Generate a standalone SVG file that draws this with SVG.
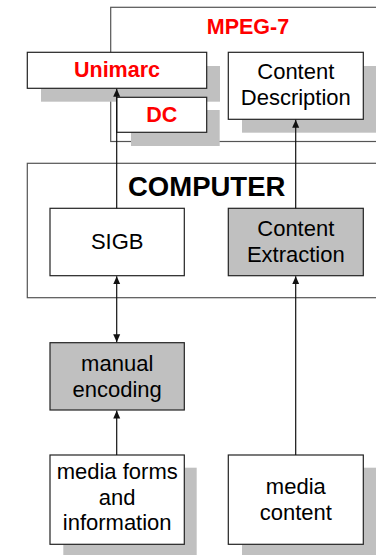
<svg xmlns="http://www.w3.org/2000/svg" width="376" height="555" viewBox="0 0 376 555">
  <style>
    .frame { fill: none; stroke: #555; stroke-width: 1.2; }
    .box { fill: #fff; stroke: #222; stroke-width: 1.2; }
    .box.grey { fill: #c0c0c0; }
    .shadow { fill: #c0c0c0; }
    text { font-family: "Liberation Sans", Arial, sans-serif; text-anchor: middle; fill: #000; }
    .lbl { font-size: 22px; }
    .red { font-weight: bold; fill: #ff0000; font-size: 21.5px; }
    .title { font-weight: bold; font-size: 27.5px; }
    .conn { stroke: #111; stroke-width: 1.2; fill: none; }
  </style>
  <defs>
    <marker id="arr" viewBox="0 0 8 8" refX="8" refY="4" markerWidth="8" markerHeight="8" markerUnits="userSpaceOnUse" orient="auto-start-reverse">
      <path d="M0,0.5 L8,4 L0,7.5 Z" fill="#111"/>
    </marker>
  </defs>

  <!-- container frames -->
  <g id="mpeg7">
    <rect class="frame" x="110.7" y="7.3" width="280" height="134.2" fill="#fff"/>
    <text class="red" x="248" y="34.3">MPEG-7</text>
  </g>
  <g id="computer">
    <rect class="frame" x="27.3" y="163.3" width="360" height="134.4"/>
    <text class="title" x="206.7" y="196">COMPUTER</text>
  </g>

  <!-- drop shadows -->
  <g id="shadows">
    <rect class="shadow" x="41" y="66" width="179" height="35.7"/>
    <rect class="shadow" x="131" y="110" width="88.7" height="36"/>
    <rect class="shadow" x="242" y="66" width="136" height="66.7"/>
    <rect class="shadow" x="63.3" y="467.7" width="133.4" height="88"/>
    <rect class="shadow" x="242" y="467.7" width="136" height="88"/>
  </g>

  <g id="unimarc">
    <rect class="box" x="27.3" y="52.3" width="179.4" height="36"/>
    <text class="red" x="117" y="77.3">Unimarc</text>
  </g>
  <g id="dc">
    <rect class="box" x="116.7" y="97.3" width="90" height="35"/>
    <text class="red" x="161.7" y="121.7">DC</text>
  </g>
  <g id="content-description">
    <rect class="box" x="228.3" y="52.3" width="135" height="67"/>
    <text class="lbl" x="295.8" y="78.7">Content</text>
    <text class="lbl" x="295.8" y="105.3">Description</text>
  </g>
  <g id="sigb">
    <rect class="box" x="50" y="208.3" width="134.3" height="67.4"/>
    <text class="lbl" x="117.2" y="249.3">SIGB</text>
  </g>
  <g id="content-extraction">
    <rect class="box grey" x="228.3" y="208.3" width="135" height="67.4"/>
    <text class="lbl" x="295.8" y="236">Content</text>
    <text class="lbl" x="295.8" y="261.7">Extraction</text>
  </g>
  <g id="manual-encoding">
    <rect class="box grey" x="50" y="342.7" width="134.3" height="67.3"/>
    <text class="lbl" x="117.2" y="370.7">manual</text>
    <text class="lbl" x="117.2" y="396.7">encoding</text>
  </g>
  <g id="media-forms">
    <rect class="box" x="50" y="455" width="134.3" height="89.3"/>
    <text class="lbl" x="117.2" y="479">media forms</text>
    <text class="lbl" x="117.2" y="504.5">and</text>
    <text class="lbl" x="117.2" y="530">information</text>
  </g>
  <g id="media-content">
    <rect class="box" x="228.3" y="455" width="135" height="89.3"/>
    <text class="lbl" x="295.8" y="494">media</text>
    <text class="lbl" x="295.8" y="519.5">content</text>
  </g>

  <!-- connectors -->
  <g id="connectors">
    <line class="conn" x1="116.7" y1="208.3" x2="116.7" y2="88.8" marker-end="url(#arr)"/>
    <line class="conn" x1="295.7" y1="208.3" x2="295.7" y2="119.8" marker-end="url(#arr)"/>
    <line class="conn" x1="116.7" y1="276.2" x2="116.7" y2="342.2" marker-start="url(#arr)" marker-end="url(#arr)"/>
    <line class="conn" x1="116.7" y1="455" x2="116.7" y2="410.5" marker-end="url(#arr)"/>
    <line class="conn" x1="295.7" y1="455" x2="295.7" y2="276.2" marker-end="url(#arr)"/>
  </g>
</svg>
